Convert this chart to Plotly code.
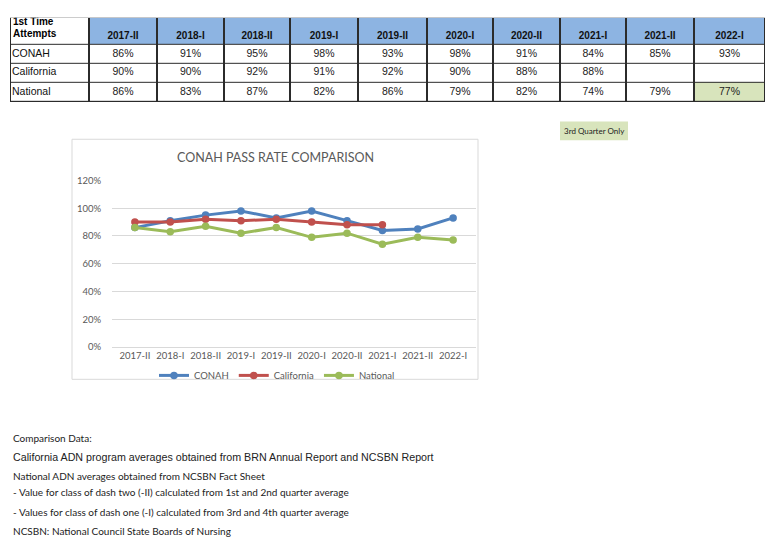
import plotly.graph_objects as go

W, H = 768, 546

periods = ["2017-II", "2018-I", "2018-II", "2019-I", "2019-II",
           "2020-I", "2020-II", "2021-I", "2021-II", "2022-I"]
series_names = ["CONAH", "California", "National"]
conah = [86, 91, 95, 98, 93, 98, 91, 84, 85, 93]
california = [90, 90, 92, 91, 92, 90, 88, 88, None, None]
national = [86, 83, 87, 82, 86, 79, 82, 74, 79, 77]
series_values = [conah, california, national]
header_label = ["1st Time", "Attempts"]
highlight_cell = ("National", "2022-I")
side_note = "3rd Quarter Only"
chart_title = "CONAH PASS RATE COMPARISON"

notes = [
    "Comparison Data:",
    "California ADN program averages obtained from BRN Annual Report and NCSBN Report",
    "National ADN averages obtained from NCSBN Fact Sheet",
    "- Value for class of dash two (-II) calculated from 1st and 2nd quarter average",
    "- Values for class of dash one (-I) calculated from 3rd and 4th quarter average",
    "NCSBN: National Council State Boards of Nursing",
]

# ---------------- styles / layout geometry ----------------
colors = ["#4F81BD", "#C0504D", "#9BBB59"]
CAL = "Lato, Carlito, Calibri, sans-serif"
ARIAL = "Liberation Sans, Arial, sans-serif"
note_y = [441, 460, 480, 496, 516, 536]
note_arial = [False, True, False, False, False, False]

# table geometry (pixels, relative to table top-left)
TBL_LEFT, TBL_TOP = 10, 12
col_w = [79, 68, 67, 66, 68, 69, 66, 67, 66, 68, 71]
row_h = [28, 18.5, 19.5, 20]


def px(y):
    return 1 - y / H


col_edges = [0]
for w in col_w:
    col_edges.append(col_edges[-1] + w)
row_edges = [0]
for h in row_h:
    row_edges.append(row_edges[-1] + h)
TBL_RIGHT = TBL_LEFT + col_edges[-1]
TBL_BOTTOM = TBL_TOP + row_edges[-1]
col_mid = [(a + b) / 2 for a, b in zip(col_edges[:-1], col_edges[1:])]
row_mid = [(a + b) / 2 for a, b in zip(row_edges[:-1], row_edges[1:])]

fig = go.Figure()

# ---------------- table (heatmap cells on secondary axes) ----------------
z = []
z.append([0] + [1] * len(periods))  # header: white label cell, blue period cells
for name in series_names:
    row = [0]
    for p in periods:
        row.append(2 if (name, p) == highlight_cell else 0)
    z.append(row)

fig.add_trace(go.Heatmap(
    x=col_edges, y=row_edges, z=z, xaxis="x2", yaxis="y2",
    zmin=0, zmax=2, showscale=False, hoverinfo="skip",
    colorscale=[[0, "white"], [0.5, "#8DB4E2"], [1, "#D8E4BC"]],
    xgap=2, ygap=1,
))

# header text
fig.add_trace(go.Scatter(
    x=[3, 3], y=[5.2, 17.2], text=["<b>%s</b>" % t for t in header_label],
    mode="text", textposition="middle right", xaxis="x2", yaxis="y2",
    textfont=dict(family=ARIAL, size=10, color="black"),
    showlegend=False, hoverinfo="skip"))
fig.add_trace(go.Scatter(
    x=col_mid[1:], y=[row_edges[1] - 8.8] * len(periods),
    text=["<b>%s</b>" % p for p in periods],
    mode="text", textposition="middle center", xaxis="x2", yaxis="y2",
    textfont=dict(family=ARIAL, size=10, color="#111"),
    showlegend=False, hoverinfo="skip"))
# row labels
fig.add_trace(go.Scatter(
    x=[2] * len(series_names), y=row_mid[1:], text=series_names,
    mode="text", textposition="middle right", xaxis="x2", yaxis="y2",
    textfont=dict(family=ARIAL, size=10.5, color="#111"),
    showlegend=False, hoverinfo="skip"))
# values
vx, vy, vt = [], [], []
for r, s in enumerate(series_values):
    for c, v in enumerate(s):
        if v is None:
            continue
        vx.append(col_mid[c + 1])
        vy.append(row_mid[r + 1])
        vt.append("%d%%" % v)
fig.add_trace(go.Scatter(
    x=vx, y=vy, text=vt, mode="text", textposition="middle center",
    xaxis="x2", yaxis="y2",
    textfont=dict(family=ARIAL, size=10.5, color="#222"),
    showlegend=False, hoverinfo="skip"))

# ---------------- chart ----------------
for name, vals, c in zip(series_names, series_values, colors):
    fig.add_trace(go.Scatter(
        x=periods, y=[None if v is None else v / 100 for v in vals],
        name=name, mode="lines+markers",
        line=dict(color=c, width=3),
        marker=dict(color=c, size=7.5),
        connectgaps=False, xaxis="x", yaxis="y",
    ))

fig.update_layout(
    width=W, height=H, margin=dict(l=0, r=0, t=0, b=0),
    paper_bgcolor="white", plot_bgcolor="white",
    showlegend=True,
    legend=dict(orientation="h", x=277 / W, xanchor="center",
                y=px(377), yanchor="middle",
                font=dict(family=CAL, size=9.5, color="#595959"),
                itemwidth=30, bgcolor="rgba(0,0,0,0)"),
    xaxis=dict(domain=[112 / W, 476 / W], type="category",
               tickfont=dict(family=CAL, size=9.5, color="#595959"),
               showgrid=False, showline=True, linecolor="#D9D9D9",
               ticks="", fixedrange=True),
    yaxis=dict(domain=[px(348), px(178)], range=[0, 1.2], dtick=0.2,
               tickformat=".0%", showgrid=True, gridcolor="#D9D9D9",
               zeroline=False, fixedrange=True,
               tickfont=dict(family=CAL, size=9.5, color="#595959"),
               ticks="outside", ticklen=8, tickcolor="rgba(0,0,0,0)"),
    xaxis2=dict(domain=[TBL_LEFT / W, TBL_RIGHT / W], range=[0, col_edges[-1]],
                visible=False, fixedrange=True, anchor="y2"),
    yaxis2=dict(domain=[px(TBL_BOTTOM), px(TBL_TOP)], range=[row_edges[-1], 0],
                visible=False, fixedrange=True, anchor="x2"),
)

shapes = [
    # table border / grid-line background
    dict(type="rect", xref="x2 domain", yref="y2 domain", x0=0, x1=1, y0=0, y1=1,
         line=dict(width=0), fillcolor="#2b2b2b", layer="below"),
    # chart frame
    dict(type="rect", xref="paper", yref="paper",
         x0=72 / W, x1=478 / W, y0=px(381), y1=px(136),
         line=dict(color="#D9D9D9", width=1), fillcolor="rgba(0,0,0,0)", layer="below"),
    # note box
    dict(type="rect", xref="paper", yref="paper",
         x0=560 / W, x1=628 / W, y0=px(137), y1=px(118),
         line=dict(width=0), fillcolor="#D8E4BC", layer="below"),
]
annotations = [
    dict(text=chart_title, xref="paper", yref="paper",
         x=275 / W, y=px(155), xanchor="center", yanchor="middle", showarrow=False,
         font=dict(family=CAL, size=12.5, color="#595959")),
    dict(text=side_note, xref="paper", yref="paper",
         x=594 / W, y=px(128), xanchor="center", yanchor="middle", showarrow=False,
         font=dict(family=CAL, size=8, color="#222")),
]
for t, y, ar in zip(notes, note_y, note_arial):
    annotations.append(dict(
        text=t, xref="paper", yref="paper", x=11 / W, y=px(y),
        xanchor="left", yanchor="middle", showarrow=False,
        font=dict(family=ARIAL if ar else CAL, size=10.7 if ar else 10, color="#222")))

fig.update_layout(shapes=shapes, annotations=annotations)
fig.write_html("out.html", config={"displayModeBar": False},
               post_script="document.body.style.margin='0px';")
